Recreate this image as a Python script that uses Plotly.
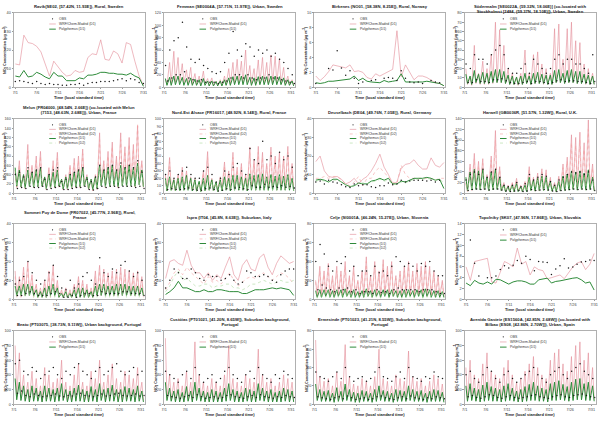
import plotly.graph_objects as go
import pandas as pd

W, H = 606, 424
days = pd.date_range("2010-07-01", periods=31, freq="D")
tick_dates = [days[i] for i in range(0, 31, 5)]
tick_labels = ["7/1", "7/6", "7/11", "7/16", "7/21", "7/26", "7/31"]

# ---------------- daily panels ----------------
rav_obs = [3, 3.5, 3, 2.5, 2, 3, 2, 1.5, 2, 1.5, 1.5, 1, 1, 1.5, 1.5, 2, 1, 2, 2.5, 2.5, 3, 3, 3, 3.5, 4, 4.5, 3.5, 4.5, 4, 2.5, 2]
rav_wrf1 = [12.5, 12, 28, 24, 23.5, 22, 19, 12, 6, 14, 11, 8, 6, 6.5, 9, 8, 8.5, 16, 18, 17.5, 25.5, 15, 14.5, 19.5, 18, 13, 24, 23, 14, 6, 1]
rav_pol1 = [6, 5.5, 9, 5.5, 6, 8, 7, 5.5, 4.5, 8, 6, 6, 3.5, 3.5, 3.5, 5, 4.5, 6.5, 6.5, 7, 8, 8, 7.5, 7.5, 7, 7, 6.5, 7.5, 6, 5, 0.5]

bir_obs = [0.5, None, None, 2.5, 2.3, 4.9, 2.6, 1.6, 2.2, 1.2, 0.5, 0.7, None, 0.9, 1.0, None, 1.2, 1.3, 1.2, 0.9, 2.2, 1.2, 0.7, 0.6, 0.7, 0.5, None, 0.9, 0.7, 0.6, None]
bir_wrf1 = [1.5, 0.9, 1.4, 2.1, 3.0, 2.9, 2.8, 2.6, 3.0, 2.1, 2.2, 2.0, 1.3, 1.1, 1.8, 1.5, 1.8, 2.1, 2.4, 7.6, 1.4, 3.0, 2.0, 1.0, 1.5, 1.5, 1.3, 1.0, 0.6, 0.5, 0.2]
bir_pol1 = [0.6, 0.5, 0.6, 0.8, 0.8, 0.9, 1.0, 1.1, 1.1, 1.5, 0.9, 1.2, 0.8, 0.7, 0.7, 0.6, 0.9, 0.7, 0.8, 0.9, 1.8, 0.7, 0.7, 0.7, 0.6, 0.7, 0.8, 0.7, 0.7, 0.5, 0.2]

deu_obs = [6, 6.5, 5, 7, 6, 5.5, 4.5, 3.5, 3, 5, 4, 4.5, 4.5, 3.5, 3, 4, 4, 5.5, 4.5, 5, 7, 6, 6.5, 7, 7, 7, 6.5, 7, 6, 7, None]
deu_wrf1 = [17, 20, 12, 9, 8.5, 9, 7.5, 5, 6, 8, 5, 7.5, 9, 12, 16, 21, 14, 10, 5, 6, 13.5, 15.5, 16, 18, 15, 13, 13, 19, 15, 14, 16.5]
deu_wrf2 = [8, 8, 9, 8, 9, 9, 7, 5, 4, 6, 9, 4, 8, 8, 12, 14, 11, 9, 6, 5, 15, 10, 8, 8, 8, 8, 8, 8, 7, 8, 8]
deu_pol1 = [7, 7.5, 7, 6, 7.5, 7.5, 6, 4.5, 3.5, 4, 5.5, 5, 5, 6.5, 7, 8, 7, 8, 5, 5, 6.5, 6, 7, 8, 8, 8, 8.5, 8, 7, 7.5, 2.5]
deu_pol2 = [6.5, 7, 6.5, 6, 7, 7, 6, 4.5, 3.5, 4, 5, 5.5, 5, 6, 6.5, 7.5, 6.5, 7, 4.5, 5, 6, 5.5, 6.5, 7.5, 7.5, 7.5, 8, 7.5, 7, 7, 6]

isp_obs = [6, 10, 16, 14, 11, 11, 16, 14, 11, 10, 13, 12, 12, 10, 11, 13, 10, 8, 9, 15, 14, 12, 12, 13, 12, 10, 9, 13, 15, 16, 16]
isp_wrf1 = [11, 20, 21, 19, 18, 26, 18, 14, 14, 11, 14, 10, 13, 11, 17, 22.5, 13, 10, 18, 21, 16, 15, 22, 24, 17, 13, 19, 23, 21, 19, 20]
isp_wrf2 = [5, 9, 14, 16, 13, 17, 14, 12, 10, 8, 12, 9, 10, 8, 11, 14, 10, 7, 9, 11, 12, 11, 13, 14, 12, 10, 12, 14, 13, 11, 8]
isp_pol1 = [2.5, 4, 6, 9.5, 6, 6, 5, 4, 4, 5, 4, 4, 5, 5, 4.5, 4, 4, 4, 3, 3, 4, 5, 5, 5, 5.5, 6, 5.5, 6, 5.5, 5, 2]
isp_pol2 = [4, 7, 12, 15, 10, 11, 9, 7, 7, 8, 8, 6, 7, 7, 8, 8, 6, 6, 5, 6, 8, 8, 9, 10, 9, 8, 9, 10, 9, 9, 10]

top_obs = [None, 11, 6.7, 4.3, None, 4, 4, 4.3, 5.5, 6.2, 5.8, 6.3, 7.2, 6.7, 8, 7.4, 5.3, 7, 6.9, 6.8, 4.6, 5.6, 6.2, 7.5, 5.8, 6, 6.5, 6.9, 7, 7.3, 7.2]
top_wrf1 = [6, 3.5, 7, 7.2, 7.3, 7.6, 3.2, 3, 5, 7, 6.6, 6, 9.5, 6.5, 7, 4.5, 6, 5.5, 5.3, 3.8, 4, 4.2, 4.5, 3.8, 4.8, 6, 6.7, 7, 5.5, 6.5, 8.5]
top_pol1 = [3, 2.5, 3.5, 3, 2.8, 3.2, 2.8, 3.7, 3.6, 3.2, 2.8, 3.2, 3.4, 3.4, 3.2, 2.8, 2.8, 3.6, 3.8, 3.9, 3, 3.3, 3.4, 3.6, 3.7, 3.9, 4, 3.6, 3, 3.2, 1.7]

# ---------------- hourly panels (daily high / low) ----------------
fem_obs_hi = [35, 60, 75, 80, 105, 65, 45, 40, 45, 35, 30, 25, 22, 25, 40, 55, 90, 60, 50, 70, 65, 50, 60, 55, 60, 50, 55, 45, 40, 30, 20]
fem_obs_lo = [10, 15, 20, 20, 25, 15, 12, 10, 12, 8, 8, 8, 6, 8, 10, 15, 20, 20, 15, 20, 15, 12, 15, 15, 20, 15, 15, 12, 10, 8, 6]
fem_wrf1_hi = [12, 40, 58, 48, 38, 28, 32, 22, 18, 26, 14, 15, 10, 12, 18, 30, 40, 45, 42, 60, 35, 30, 44, 48, 40, 52, 50, 46, 32, 18, 12]
fem_wrf1_lo = [4, 6, 8, 8, 6, 5, 5, 4, 4, 5, 3, 3, 3, 3, 4, 5, 6, 7, 7, 8, 6, 5, 6, 7, 6, 7, 7, 6, 5, 4, 3]
fem_pol1_hi = [14, 16, 18, 18, 16, 14, 15, 13, 12, 14, 10, 10, 9, 10, 12, 15, 17, 18, 18, 20, 16, 15, 17, 18, 17, 18, 18, 17, 15, 12, 10]
fem_pol1_lo = [3, 3, 4, 4, 3, 3, 3, 3, 2, 3, 2, 2, 2, 2, 3, 3, 4, 4, 4, 4, 3, 3, 4, 4, 4, 4, 4, 4, 3, 3, 2]

sod_obs_hi = [25, 20, 35, 30, 30, 25, 35, 40, 45, 35, 20, 15, 15, 20, 25, 15, 30, 25, 20, 15, 20, 30, 35, 25, 30, 30, 25, 25, 20, 15, 35]
sod_obs_lo = [5, 5, 8, 6, 6, 5, 8, 8, 9, 7, 5, 4, 4, 5, 6, 4, 6, 6, 5, 4, 5, 7, 8, 6, 7, 7, 6, 6, 5, 4, 6]
sod_wrf1_hi = [20, 10, 45, 15, 28, 20, 35, 70, 62, 45, 20, 15, 10, 15, 40, 15, 35, 38, 25, 20, 15, 63, 68, 30, 63, 70, 50, 48, 25, 20, 15]
sod_wrf1_lo = [3, 2, 4, 3, 3, 3, 4, 5, 5, 4, 3, 3, 2, 3, 4, 3, 4, 4, 3, 3, 3, 5, 5, 4, 5, 5, 4, 4, 3, 3, 3]
sod_pol1_hi = [14, 12, 18, 14, 16, 15, 17, 19, 19, 17, 13, 12, 11, 12, 15, 12, 15, 16, 14, 13, 13, 18, 19, 15, 18, 19, 17, 17, 14, 13, 12]
sod_pol1_lo = [4, 3, 5, 4, 4, 4, 5, 5, 5, 4, 3, 3, 3, 3, 4, 3, 4, 4, 4, 3, 3, 5, 5, 4, 5, 5, 4, 4, 4, 3, 3]

mel_obs_hi = [40, 45, 35, 55, 45, 50, 55, 30, 40, 50, 55, 25, 30, 40, 45, 50, 55, 30, 25, 35, 60, 50, 55, 60, 50, 65, 55, 60, 55, 70, 45]
mel_obs_lo = [10, 12, 10, 15, 12, 12, 15, 8, 10, 12, 15, 8, 8, 10, 12, 12, 15, 8, 7, 10, 15, 12, 15, 15, 12, 15, 15, 15, 12, 15, 10]
mel_wrf1_hi = [50, 70, 40, 105, 60, 80, 90, 35, 55, 70, 88, 30, 40, 60, 75, 80, 95, 40, 30, 40, 130, 70, 90, 110, 80, 130, 100, 120, 105, 145, 70]
mel_wrf1_lo = [12, 15, 10, 18, 12, 15, 15, 8, 10, 12, 15, 8, 8, 10, 12, 12, 15, 8, 6, 8, 18, 12, 15, 18, 12, 18, 15, 18, 15, 20, 12]
mel_wrf2_hi = [45, 60, 35, 90, 55, 70, 80, 30, 50, 60, 75, 28, 35, 55, 65, 70, 85, 35, 28, 35, 115, 62, 80, 100, 72, 115, 90, 105, 95, 150, 65]
mel_wrf2_lo = [10, 13, 9, 16, 11, 13, 13, 7, 9, 11, 13, 7, 7, 9, 11, 11, 13, 7, 5, 7, 16, 11, 13, 16, 11, 16, 13, 16, 13, 18, 11]
mel_pol1_hi = [55, 50, 40, 50, 45, 50, 55, 35, 40, 45, 50, 30, 35, 40, 45, 50, 55, 35, 30, 35, 60, 50, 55, 60, 50, 60, 55, 60, 55, 65, 50]
mel_pol1_lo = [15, 14, 12, 15, 13, 14, 15, 10, 12, 13, 15, 9, 10, 12, 13, 14, 15, 10, 8, 10, 16, 14, 15, 16, 14, 16, 15, 16, 15, 18, 14]
mel_pol2_hi = [50, 45, 35, 45, 40, 45, 50, 30, 35, 40, 45, 28, 32, 36, 40, 45, 50, 32, 28, 32, 55, 45, 50, 55, 45, 55, 50, 55, 50, 60, 45]
mel_pol2_lo = [14, 13, 11, 14, 12, 13, 14, 9, 11, 12, 14, 8, 9, 11, 12, 13, 14, 9, 7, 9, 15, 13, 14, 15, 13, 15, 14, 15, 14, 17, 13]

nea_obs_hi = [25, 30, 20, 25, 30, 35, 25, 20, 20, 30, 35, 25, 15, 20, 30, 25, 35, 40, 30, 25, 60, 45, 40, 70, 45, 50, 40, 55, 45, 50, 35]
nea_obs_lo = [5, 6, 5, 5, 6, 7, 5, 4, 4, 6, 7, 5, 3, 4, 6, 5, 7, 8, 6, 5, 10, 8, 8, 12, 8, 9, 8, 10, 8, 9, 7]
nea_wrf1_hi = [25, 48, 20, 25, 35, 30, 22, 20, 15, 30, 56, 20, 15, 22, 42, 30, 55, 35, 40, 25, 62, 45, 63, 55, 40, 62, 50, 55, 50, 63, 40]
nea_wrf1_lo = [4, 5, 3, 4, 5, 5, 4, 3, 3, 4, 5, 3, 3, 4, 5, 4, 6, 5, 5, 4, 6, 5, 6, 6, 5, 6, 5, 6, 5, 6, 4]
nea_wrf2_hi = [22, 42, 18, 22, 30, 27, 20, 18, 14, 27, 48, 18, 14, 20, 37, 27, 48, 31, 35, 22, 55, 40, 55, 48, 36, 55, 44, 48, 44, 55, 36]
nea_wrf2_lo = [3, 4, 3, 3, 4, 4, 3, 3, 2, 4, 4, 3, 2, 3, 4, 3, 5, 4, 4, 3, 5, 4, 5, 5, 4, 5, 4, 5, 4, 5, 4]
nea_pol1_hi = [20, 22, 18, 20, 22, 24, 20, 18, 16, 20, 24, 18, 15, 18, 22, 20, 24, 24, 22, 20, 26, 24, 25, 26, 22, 25, 23, 25, 23, 25, 20]
nea_pol1_lo = [3, 4, 3, 3, 4, 4, 3, 3, 2, 3, 4, 3, 2, 3, 4, 3, 4, 4, 4, 3, 4, 4, 4, 4, 4, 4, 4, 4, 4, 4, 3]
nea_pol2_hi = [18, 20, 16, 18, 20, 22, 18, 16, 14, 18, 22, 16, 14, 16, 20, 18, 22, 22, 20, 18, 24, 22, 23, 24, 20, 23, 21, 23, 21, 23, 18]
nea_pol2_lo = [3, 3, 3, 3, 3, 4, 3, 2, 2, 3, 3, 3, 2, 3, 3, 3, 4, 4, 3, 3, 4, 4, 4, 4, 3, 4, 3, 4, 3, 4, 3]

har_obs_hi = [25, 35, 40, 35, 45, 30, 40, 45, 30, 15, 12, 15, 20, 12, 18, 35, 25, 30, 35, 32, 22, 15, 25, 30, 35, 40, 38, 40, 35, 40, 25]
har_obs_lo = [5, 7, 8, 7, 8, 6, 8, 8, 6, 4, 3, 4, 5, 3, 4, 7, 5, 6, 7, 6, 4, 3, 5, 6, 7, 8, 7, 8, 7, 8, 5]
har_wrf1_hi = [20, 55, 75, 60, 65, 35, 70, 118, 50, 20, 15, 20, 28, 15, 22, 50, 30, 38, 46, 44, 30, 20, 32, 55, 68, 110, 105, 115, 95, 138, 55]
har_wrf1_lo = [4, 6, 8, 7, 7, 5, 7, 9, 6, 3, 3, 3, 4, 3, 3, 6, 4, 5, 6, 5, 4, 3, 4, 6, 7, 9, 9, 9, 8, 10, 6]
har_wrf2_hi = [18, 48, 65, 52, 56, 30, 62, 100, 44, 18, 13, 18, 25, 13, 20, 44, 27, 33, 40, 38, 26, 18, 28, 48, 60, 95, 90, 100, 82, 120, 48]
har_wrf2_lo = [3, 5, 7, 6, 6, 4, 6, 8, 5, 3, 2, 3, 3, 2, 3, 5, 4, 4, 5, 5, 4, 3, 4, 5, 6, 8, 8, 8, 7, 9, 5]
har_pol1_hi = [30, 40, 45, 42, 44, 30, 40, 45, 30, 15, 12, 15, 18, 12, 15, 30, 25, 28, 32, 30, 22, 15, 22, 32, 36, 42, 40, 42, 38, 44, 30]
har_pol1_lo = [5, 6, 7, 6, 7, 5, 6, 7, 5, 3, 3, 3, 3, 3, 3, 5, 4, 5, 5, 5, 4, 3, 4, 5, 6, 7, 6, 7, 6, 7, 5]
har_pol2_hi = [28, 36, 40, 38, 40, 28, 36, 40, 27, 14, 11, 14, 16, 11, 14, 27, 22, 25, 29, 27, 20, 14, 20, 29, 32, 38, 36, 38, 34, 40, 27]
har_pol2_lo = [4, 5, 6, 5, 6, 4, 5, 6, 4, 3, 2, 3, 3, 2, 3, 4, 4, 4, 5, 4, 3, 3, 3, 4, 5, 6, 5, 6, 5, 6, 4]

puy_obs_hi = [8, 10, 12, 20, 14, 10, 8, 10, 14, 18, 12, 6, 5, 10, 6, 8, 12, 14, 10, 8, 22, 14, 12, 16, 14, 18, 20, 15, 12, 14, 10]
puy_obs_lo = [2, 2, 3, 4, 3, 2, 2, 2, 3, 4, 3, 1, 1, 2, 1, 2, 3, 3, 2, 2, 4, 3, 3, 3, 3, 4, 4, 3, 3, 3, 2]
puy_wrf1_hi = [15, 12, 17, 20, 13, 8, 6, 10, 15, 18, 10, 5, 6, 5, 8, 12, 10, 8, 6, 15, 18, 16, 14, 15, 16, 17, 16, 15, 14, 15, 12]
puy_wrf1_lo = [2, 2, 2, 3, 2, 1, 1, 1, 2, 2, 1, 1, 1, 1, 1, 2, 1, 1, 1, 2, 2, 2, 2, 2, 2, 2, 2, 2, 2, 2, 2]
puy_wrf2_hi = [12, 10, 14, 17, 11, 7, 5, 8, 12, 15, 8, 4, 5, 4, 7, 10, 8, 7, 5, 12, 15, 13, 12, 12, 13, 14, 13, 12, 12, 12, 10]
puy_wrf2_lo = [1, 1, 2, 2, 1, 1, 1, 1, 1, 2, 1, 1, 1, 1, 1, 1, 1, 1, 1, 2, 2, 2, 2, 2, 2, 2, 2, 2, 2, 2, 1]
puy_pol1_hi = [7, 7, 8, 8, 7, 5, 4, 6, 7, 8, 6, 3, 4, 3, 5, 6, 6, 5, 4, 7, 8, 8, 7, 7, 8, 8, 8, 7, 7, 7, 6]
puy_pol1_lo = [2, 2, 2, 2, 2, 1, 1, 1, 2, 2, 1, 1, 1, 1, 1, 1, 1, 1, 1, 2, 2, 2, 2, 2, 2, 2, 2, 2, 2, 2, 2]
puy_pol2_hi = [6, 6, 7, 7, 6, 4, 3, 5, 6, 7, 5, 3, 3, 3, 4, 5, 5, 4, 3, 6, 7, 7, 6, 6, 7, 7, 7, 6, 6, 6, 5]
puy_pol2_lo = [1, 1, 1, 2, 1, 1, 1, 1, 1, 1, 1, 1, 1, 1, 1, 1, 1, 1, 1, 1, 2, 1, 1, 1, 1, 2, 1, 1, 1, 1, 1]

cel_obs_hi = [40, 58, 48, 35, 30, 40, 38, 45, 30, 35, 25, 30, 30, 25, 35, 28, 30, 25, 35, 45, 40, 35, 38, 35, 30, 38, 35, 40, 30, 25, 25]
cel_obs_lo = [10, 15, 12, 10, 8, 12, 10, 12, 8, 10, 6, 8, 8, 6, 10, 7, 8, 6, 10, 12, 10, 10, 10, 10, 8, 10, 10, 10, 8, 6, 6]
cel_wrf1_hi = [20, 35, 30, 38, 25, 35, 30, 40, 25, 35, 20, 30, 45, 25, 40, 30, 42, 35, 40, 25, 30, 35, 40, 30, 38, 35, 40, 35, 30, 25, 20]
cel_wrf1_lo = [3, 4, 4, 4, 3, 4, 4, 4, 3, 4, 3, 3, 4, 3, 4, 3, 4, 4, 4, 3, 3, 4, 4, 3, 4, 4, 4, 4, 3, 3, 3]
cel_wrf2_hi = [18, 30, 26, 33, 22, 30, 26, 35, 22, 30, 18, 26, 40, 22, 35, 26, 37, 30, 35, 22, 26, 30, 35, 26, 33, 30, 35, 30, 26, 22, 18]
cel_wrf2_lo = [2, 3, 3, 3, 2, 3, 3, 3, 2, 3, 2, 2, 3, 2, 3, 2, 3, 3, 3, 2, 2, 3, 3, 2, 3, 3, 3, 3, 2, 2, 2]
cel_pol1_hi = [9, 10, 10, 10, 9, 10, 10, 11, 9, 10, 8, 9, 11, 9, 10, 9, 10, 10, 10, 9, 9, 10, 10, 9, 10, 10, 11, 10, 9, 9, 8]
cel_pol1_lo = [2, 2, 3, 2, 2, 3, 2, 3, 2, 2, 2, 2, 3, 2, 3, 2, 3, 2, 3, 2, 2, 2, 3, 2, 3, 2, 3, 2, 2, 2, 2]
cel_pol2_hi = [8, 9, 9, 9, 8, 9, 9, 10, 8, 9, 7, 8, 10, 8, 9, 8, 9, 9, 9, 8, 8, 9, 9, 8, 9, 9, 10, 9, 8, 8, 7]
cel_pol2_lo = [1, 1, 2, 1, 1, 2, 1, 2, 1, 1, 1, 1, 2, 1, 2, 1, 2, 1, 2, 1, 1, 1, 2, 1, 2, 1, 2, 1, 1, 1, 1]

bea_obs_hi = [55, 60, 45, 40, 50, 45, 35, 40, 45, 50, 40, 35, 45, 40, 50, 55, 45, 40, 35, 45, 50, 40, 45, 50, 55, 45, 40, 45, 50, 40, 45]
bea_obs_lo = [15, 18, 12, 10, 14, 12, 10, 11, 12, 14, 11, 10, 12, 11, 14, 15, 12, 11, 10, 12, 14, 11, 12, 14, 15, 12, 11, 12, 14, 11, 12]
bea_wrf1_hi = [80, 70, 40, 30, 45, 35, 25, 50, 40, 30, 35, 60, 30, 25, 40, 55, 30, 25, 45, 35, 60, 30, 40, 55, 35, 30, 45, 40, 35, 50, 30]
bea_wrf1_lo = [10, 9, 6, 5, 7, 6, 4, 7, 6, 5, 6, 8, 5, 4, 6, 7, 5, 4, 6, 5, 8, 5, 6, 7, 5, 5, 6, 6, 5, 7, 5]
bea_pol1_hi = [35, 30, 25, 20, 25, 22, 18, 25, 22, 20, 22, 28, 20, 18, 22, 26, 20, 18, 24, 20, 28, 20, 22, 26, 20, 20, 24, 22, 20, 25, 18]
bea_pol1_lo = [6, 5, 4, 3, 4, 4, 3, 4, 4, 3, 4, 5, 3, 3, 4, 4, 3, 3, 4, 3, 5, 3, 4, 4, 3, 3, 4, 4, 3, 4, 3]

cus_obs_hi = [45, 40, 35, 30, 40, 45, 35, 50, 40, 30, 35, 40, 30, 35, 45, 50, 40, 35, 30, 40, 45, 35, 50, 40, 35, 30, 40, 35, 45, 40, 35]
cus_obs_lo = [12, 10, 9, 8, 10, 12, 9, 13, 10, 8, 9, 10, 8, 9, 12, 13, 10, 9, 8, 10, 12, 9, 13, 10, 9, 8, 10, 9, 12, 10, 9]
cus_wrf1_hi = [90, 40, 30, 35, 25, 45, 30, 85, 40, 30, 25, 35, 30, 25, 40, 80, 35, 30, 25, 40, 35, 30, 75, 40, 30, 35, 25, 30, 40, 35, 30]
cus_wrf1_lo = [8, 6, 5, 5, 4, 6, 5, 8, 6, 5, 4, 5, 5, 4, 6, 8, 5, 5, 4, 6, 5, 5, 8, 6, 5, 5, 4, 5, 6, 5, 5]
cus_pol1_hi = [30, 22, 18, 20, 16, 24, 18, 30, 22, 18, 16, 20, 18, 16, 22, 28, 20, 18, 16, 22, 20, 18, 28, 22, 18, 20, 16, 18, 22, 20, 18]
cus_pol1_lo = [5, 4, 3, 3, 3, 4, 3, 5, 4, 3, 3, 3, 3, 3, 4, 5, 3, 3, 3, 4, 3, 3, 5, 4, 3, 3, 3, 3, 4, 3, 3]

erm_obs_hi = [35, 30, 28, 25, 30, 35, 28, 40, 30, 25, 28, 30, 25, 28, 35, 40, 30, 28, 25, 30, 35, 28, 40, 30, 28, 25, 30, 28, 35, 30, 28]
erm_obs_lo = [8, 7, 6, 5, 7, 8, 6, 9, 7, 5, 6, 7, 5, 6, 8, 9, 7, 6, 5, 7, 8, 6, 9, 7, 6, 5, 7, 6, 8, 7, 6]
erm_wrf1_hi = [70, 30, 25, 28, 20, 35, 25, 65, 30, 22, 20, 28, 25, 20, 30, 60, 28, 25, 20, 32, 28, 25, 58, 30, 25, 28, 20, 25, 32, 28, 22]
erm_wrf1_lo = [6, 5, 4, 4, 3, 5, 4, 6, 5, 4, 3, 4, 4, 3, 5, 6, 4, 4, 3, 5, 4, 4, 6, 5, 4, 4, 3, 4, 5, 4, 4]
erm_pol1_hi = [22, 16, 14, 15, 12, 18, 14, 22, 16, 13, 12, 15, 14, 12, 16, 20, 15, 14, 12, 16, 15, 14, 20, 16, 14, 15, 12, 14, 16, 15, 13]
erm_pol1_lo = [4, 3, 3, 3, 2, 3, 3, 4, 3, 2, 2, 3, 3, 2, 3, 4, 3, 3, 2, 3, 3, 3, 4, 3, 3, 3, 2, 3, 3, 3, 2]

ave_obs_hi = [40, 45, 35, 30, 40, 50, 45, 35, 30, 40, 45, 35, 30, 35, 40, 45, 50, 40, 35, 30, 40, 45, 50, 40, 35, 45, 50, 55, 45, 40, 35]
ave_obs_lo = [10, 12, 9, 8, 10, 13, 12, 9, 8, 10, 12, 9, 8, 9, 10, 12, 13, 10, 9, 8, 10, 12, 13, 10, 9, 12, 13, 14, 12, 10, 9]
ave_wrf1_hi = [50, 60, 40, 35, 55, 70, 45, 40, 35, 50, 60, 40, 30, 35, 45, 55, 65, 50, 40, 35, 60, 70, 75, 55, 45, 65, 80, 85, 60, 70, 50]
ave_wrf1_lo = [6, 7, 5, 4, 6, 8, 6, 5, 4, 6, 7, 5, 4, 4, 5, 7, 8, 6, 5, 4, 7, 8, 9, 7, 5, 8, 9, 10, 7, 8, 6]
ave_pol1_hi = [25, 28, 22, 20, 26, 30, 24, 22, 20, 25, 28, 22, 18, 20, 24, 27, 30, 25, 22, 20, 28, 30, 32, 27, 24, 30, 34, 35, 28, 30, 25]
ave_pol1_lo = [4, 5, 4, 3, 4, 5, 4, 4, 3, 4, 5, 4, 3, 3, 4, 5, 5, 4, 4, 3, 5, 5, 6, 5, 4, 5, 6, 6, 5, 5, 4]

# ---------------- titles / axes ----------------
titles = [
    "Råvik(SE02, [57.42N, 11.93E]), Rural, Sweden",
    "Femman (SE0004A, [57.71N, 11.97E]), Urban, Sweden",
    "Birkenes (NO01, [58.38N, 8.25E]), Rural, Norway",
    "Södermalm [SE0022A, (59.32N, 18.06E)] (co-located with<br>Stockholmst [2484, (59.37N, 18.10E)]), Urban, Sweden",
    "Melun (FR04000, [48.54N, 2.66E]) (co-located with Melun<br>(7153, [48.63N, 2.68E])), Urban, France",
    "Nord-Est Alsace (FR16017, [48.92N, 8.14E]), Rural, France",
    "Deuselbach (DE04, [49.76N, 7.05E]), Rural, Germany",
    "Harwell (GB0036R, [51.57N, 1.32W]), Rural, U.K.",
    "Sommet Puy de Dome (FR07022, [45.77N, 2.96E]), Rural,<br>France",
    "Ispra (IT04, [45.8N, 8.63E]), Suburban, Italy",
    "Celje (SI0001A, [46.24N, 15.27E]), Urban, Slovenia",
    "Topolniky (SK07, [47.96N, 17.86E]), Urban, Slovakia",
    "Beato (PT03075, [38.73N, 9.11W]), Urban background, Portugal",
    "Custóias (PT01021, [41.20N, 8.65W]), Suburban background,<br>Portugal",
    "Ermesinde (PT01023, [41.21N, 8.55W]), Suburban background,<br>Portugal",
    "Avenida Gasteiz (ES1560A, [42.85N, 2.68W]) (co-located with<br>Bilbao (ES08, [42.86N, 2.70W])), Urban, Spain",
]
y_max = [40, 120, 10, 80, 160, 100, 40, 140, 40, 40, 80, 14, 100, 100, 80, 100]
y_step = [10, 20, 2, 10, 20, 10, 10, 20, 10, 10, 20, 2, 20, 20, 20, 20]

LABELS = {"obs": "OBS", "wrf1": "WRF/Chem-Madrid (D1)", "wrf2": "WRF/Chem-Madrid (D2)",
          "pol1": "Polyphemus (D1)", "pol2": "Polyphemus (D2)"}

panels = [
    ("daily", {"obs": rav_obs, "wrf1": rav_wrf1, "pol1": rav_pol1}),
    ("hourly", {"obs": (fem_obs_hi, fem_obs_lo), "wrf1": (fem_wrf1_hi, fem_wrf1_lo), "pol1": (fem_pol1_hi, fem_pol1_lo)}),
    ("daily", {"obs": bir_obs, "wrf1": bir_wrf1, "pol1": bir_pol1}),
    ("hourly", {"obs": (sod_obs_hi, sod_obs_lo), "wrf1": (sod_wrf1_hi, sod_wrf1_lo), "pol1": (sod_pol1_hi, sod_pol1_lo)}),
    ("hourly", {"obs": (mel_obs_hi, mel_obs_lo), "wrf1": (mel_wrf1_hi, mel_wrf1_lo), "wrf2": (mel_wrf2_hi, mel_wrf2_lo),
                "pol1": (mel_pol1_hi, mel_pol1_lo), "pol2": (mel_pol2_hi, mel_pol2_lo)}),
    ("hourly", {"obs": (nea_obs_hi, nea_obs_lo), "wrf1": (nea_wrf1_hi, nea_wrf1_lo), "wrf2": (nea_wrf2_hi, nea_wrf2_lo),
                "pol1": (nea_pol1_hi, nea_pol1_lo), "pol2": (nea_pol2_hi, nea_pol2_lo)}),
    ("daily", {"obs": deu_obs, "wrf1": deu_wrf1, "wrf2": deu_wrf2, "pol1": deu_pol1, "pol2": deu_pol2}),
    ("hourly", {"obs": (har_obs_hi, har_obs_lo), "wrf1": (har_wrf1_hi, har_wrf1_lo), "wrf2": (har_wrf2_hi, har_wrf2_lo),
                "pol1": (har_pol1_hi, har_pol1_lo), "pol2": (har_pol2_hi, har_pol2_lo)}),
    ("hourly", {"obs": (puy_obs_hi, puy_obs_lo), "wrf1": (puy_wrf1_hi, puy_wrf1_lo), "wrf2": (puy_wrf2_hi, puy_wrf2_lo),
                "pol1": (puy_pol1_hi, puy_pol1_lo), "pol2": (puy_pol2_hi, puy_pol2_lo)}),
    ("daily", {"obs": isp_obs, "wrf1": isp_wrf1, "wrf2": isp_wrf2, "pol1": isp_pol1, "pol2": isp_pol2}),
    ("hourly", {"obs": (cel_obs_hi, cel_obs_lo), "wrf1": (cel_wrf1_hi, cel_wrf1_lo), "wrf2": (cel_wrf2_hi, cel_wrf2_lo),
                "pol1": (cel_pol1_hi, cel_pol1_lo), "pol2": (cel_pol2_hi, cel_pol2_lo)}),
    ("daily", {"obs": top_obs, "wrf1": top_wrf1, "pol1": top_pol1}),
    ("hourly", {"obs": (bea_obs_hi, bea_obs_lo), "wrf1": (bea_wrf1_hi, bea_wrf1_lo), "pol1": (bea_pol1_hi, bea_pol1_lo)}),
    ("hourly", {"obs": (cus_obs_hi, cus_obs_lo), "wrf1": (cus_wrf1_hi, cus_wrf1_lo), "pol1": (cus_pol1_hi, cus_pol1_lo)}),
    ("hourly", {"obs": (erm_obs_hi, erm_obs_lo), "wrf1": (erm_wrf1_hi, erm_wrf1_lo), "pol1": (erm_pol1_hi, erm_pol1_lo)}),
    ("hourly", {"obs": (ave_obs_hi, ave_obs_lo), "wrf1": (ave_wrf1_hi, ave_wrf1_lo), "pol1": (ave_pol1_hi, ave_pol1_lo)}),
]

STYLE = {
    "obs": dict(mode="markers", marker=dict(size=1.5, color="#1a1a1a", line=dict(width=0))),
    "wrf1": dict(mode="lines", line=dict(color="#e38a95", width=0.6)),
    "wrf2": dict(mode="lines", line=dict(color="#f3a0a0", width=0.6, dash="dot")),
    "pol1": dict(mode="lines", line=dict(color="#2e8b3a", width=1.0)),
    "pol2": dict(mode="lines", line=dict(color="#a8d69a", width=0.6, dash="dot")),
}


def hourly_xy(hi, lo, h_hi, h_lo):
    xs, ys = [], []
    for d, a, b in zip(days, hi, lo):
        xs += [d + pd.Timedelta(hours=h_hi), d + pd.Timedelta(hours=h_lo)]
        ys += [a, b]
    return xs, ys


fig = go.Figure()
row_top = [11, 118, 224, 332]
row_bot = [86, 193, 300, 406]
FONT = "Liberation Sans, Arial, sans-serif"
annotations, shapes = [], []

for i, (kind, series) in enumerate(panels):
    n = i + 1
    r, c = divmod(i, 4)
    xl, xr = c * 151.5 + 11, c * 151.5 + 143
    yt, yb = row_top[r], row_bot[r]
    xa = "x" if n == 1 else f"x{n}"
    ya = "y" if n == 1 else f"y{n}"
    order = [k for k in ["wrf1", "wrf2", "pol1", "pol2", "obs"] if k in series]
    for key in order:
        data = series[key]
        if kind == "daily":
            xs, ys = list(days), data
        else:
            if key == "obs":
                xs, ys = hourly_xy(data[0], data[1], 8, 20)
            else:
                xs, ys = hourly_xy(data[0], data[1], 7, 16)
        fig.add_trace(go.Scatter(x=xs, y=ys, xaxis=xa, yaxis=ya, showlegend=False,
                                 connectgaps=False, **STYLE[key]))
    if kind == "daily":
        xrng = [days[0] - pd.Timedelta(hours=8), days[-1] + pd.Timedelta(hours=8)]
    else:
        xrng = [days[0], days[-1] + pd.Timedelta(hours=24)]
    ax = dict(domain=[xl / W, xr / W], anchor=ya, type="date", range=xrng,
              tickvals=tick_dates, ticktext=tick_labels, tickfont=dict(size=3.8, color="#444", family=FONT),
              showgrid=False, zeroline=False, showline=True, linecolor="#b0b0b0", linewidth=0.6,
              mirror=True, ticks="outside", ticklen=1.5, tickwidth=0.5, tickcolor="#999")
    ay = dict(domain=[1 - yb / H, 1 - yt / H], anchor=xa, range=[0, y_max[i]], dtick=y_step[i],
              tickfont=dict(size=3.8, color="#444", family=FONT),
              showgrid=False, zeroline=False, showline=True, linecolor="#b0b0b0", linewidth=0.6,
              mirror=True, ticks="outside", ticklen=1.5, tickwidth=0.5, tickcolor="#999")
    fig.update_layout({("xaxis" if n == 1 else f"xaxis{n}"): ax, ("yaxis" if n == 1 else f"yaxis{n}"): ay})

    # panel title
    if r == 0:
        annotations.append(dict(xref="paper", yref="paper", x=(xl + xr) / 2 / W, y=1 - 0.3 / H,
                                xanchor="center", yanchor="top", text="<b>" + titles[i] + "</b>", showarrow=False,
                                font=dict(size=4.2, color="#222", family=FONT)))
    else:
        annotations.append(dict(xref="paper", yref="paper", x=(xl + xr) / 2 / W, y=1 - (yt - 1.5) / H,
                                xanchor="center", yanchor="bottom", text="<b>" + titles[i] + "</b>", showarrow=False,
                                font=dict(size=4.2, color="#222", family=FONT)))
    # axis titles
    annotations.append(dict(xref="paper", yref="paper", x=(xl + xr) / 2 / W, y=1 - (yb + 6) / H,
                            xanchor="center", yanchor="top", text="<b>Time (local standard time)</b>", showarrow=False,
                            font=dict(size=4.0, color="#222", family=FONT)))
    annotations.append(dict(xref="paper", yref="paper", x=(xl - 9) / W, y=1 - (yt + yb) / 2 / H,
                            xanchor="center", yanchor="middle", textangle=-90, showarrow=False,
                            text="<b>NO<sub>2</sub> Concentration (μg m<sup>-3</sup>)</b>",
                            font=dict(size=3.7, color="#222", family=FONT)))
    # legend
    leg_keys = [k for k in ["obs", "wrf1", "wrf2", "pol1", "pol2"] if k in series]
    step = 5.2 if len(leg_keys) <= 3 else 4.6
    for j, key in enumerate(leg_keys):
        ypx = yt + 6 + j * step
        yv = 1 - ypx / H
        lx0 = xl + 0.27 * (xr - xl)
        lx1 = xl + 0.32 * (xr - xl)
        if key == "obs":
            shapes.append(dict(type="circle", xref="paper", yref="paper",
                               x0=((lx0 + lx1) / 2 - 0.6) / W, x1=((lx0 + lx1) / 2 + 0.6) / W,
                               y0=yv - 0.6 / H, y1=yv + 0.6 / H, fillcolor="#1a1a1a", line=dict(width=0)))
        else:
            st = STYLE[key]["line"]
            shapes.append(dict(type="line", xref="paper", yref="paper", x0=lx0 / W, x1=lx1 / W, y0=yv, y1=yv,
                               line=dict(color=st["color"], width=st["width"], dash=st.get("dash", "solid"))))
        annotations.append(dict(xref="paper", yref="paper", x=(lx1 + 1.5) / W, y=yv, xanchor="left",
                                yanchor="middle", text=LABELS[key], showarrow=False,
                                font=dict(size=3.4, color="#333", family=FONT)))

fig.update_layout(width=W, height=H, margin=dict(l=0, r=0, t=0, b=0), paper_bgcolor="white",
                  plot_bgcolor="white", showlegend=False, annotations=annotations, shapes=shapes)
fig.write_html("out.html")
